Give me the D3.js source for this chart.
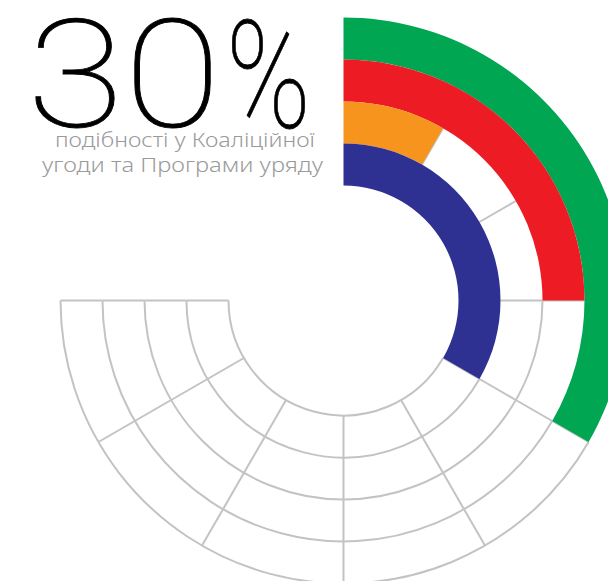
<!DOCTYPE html>
<html>
<head>
<meta charset="utf-8">
<script src="https://cdn.jsdelivr.net/npm/d3@7"></script>
<style>
  html, body { margin: 0; padding: 0; background: #fff; }
  svg { display: block; }
</style>
</head>
<body>
<svg id="chart" width="608" height="581"></svg>
<script>
// Series, outer ring first
const series = ["green", "red", "orange", "blue"];
const values = [40, 30, 10, 40];            // per cent
const colors = ["#00a651", "#ed1c24", "#f7941d", "#2e3192"];
const gridTicks = [10, 20, 30, 40, 50, 60, 70, 80, 90];
const gridMax = 90;
const headline = "30%";
const subtitleLines = ["подібності у Коаліційної", "угоди та Програми уряду"];

const svg = d3.select("#chart");
const cx = 343.5, cy = 300.5;
const g = svg.append("g").attr("transform", `translate(${cx},${cy})`);

// 100 % would take 300 degrees; the grid stops at 90 %
const angle = d3.scaleLinear().domain([0, 100]).range([0, 300 * Math.PI / 180]);
const radius = d3.scaleBand().domain(series).range([283, 115]).paddingInner(0).paddingOuter(0);
const bw = radius.bandwidth();

const gridColor = "#c3c3c3";
const gridWidth = 2;

const inner = s => radius(s);
const outer = s => radius(s) + bw;
const valOf = s => values[series.indexOf(s)];

// ring boundaries: each one runs from the larger of its neighbours' values to the grid end
const boundaries = [];
series.forEach((s, i) => {
  const outerNeighbour = i > 0 ? values[i - 1] : 0;
  boundaries.push({ r: outer(s), from: Math.max(values[i], outerNeighbour) });
});
boundaries.push({ r: inner(series[series.length - 1]), from: values[values.length - 1] });

const grid = g.append("g").attr("class", "grid")
  .attr("fill", "none").attr("stroke", gridColor).attr("stroke-width", gridWidth);

grid.selectAll("path.ring")
  .data(boundaries)
  .join("path")
  .attr("class", "ring")
  .attr("d", d => {
    const p = d3.path();
    const a0 = angle(d.from) - Math.PI / 2, a1 = angle(gridMax) - Math.PI / 2;
    p.moveTo(d.r * Math.cos(a0), d.r * Math.sin(a0));
    p.arc(0, 0, d.r, a0, a1);
    return p.toString();
  });

// spokes across each ring's empty part
const spokes = [];
series.forEach((s, i) => {
  gridTicks.filter(t => t >= values[i]).forEach(t => spokes.push({ s, t }));
});
grid.selectAll("line.spoke")
  .data(spokes)
  .join("line")
  .attr("class", "spoke")
  .attr("x1", d => inner(d.s) * Math.sin(angle(d.t)))
  .attr("y1", d => -inner(d.s) * Math.cos(angle(d.t)))
  .attr("x2", d => outer(d.s) * Math.sin(angle(d.t)))
  .attr("y2", d => -outer(d.s) * Math.cos(angle(d.t)));

// coloured bars
const arc = d3.arc()
  .innerRadius(d => inner(d))
  .outerRadius(d => outer(d))
  .startAngle(0)
  .endAngle(d => angle(valOf(d)));

g.append("g").selectAll("path.bar")
  .data(series)
  .join("path")
  .attr("class", "bar")
  .attr("d", arc)
  .attr("fill", (d, i) => colors[i]);

// headline, one glyph at a time so each gets its own width
const glyphX = [27, 124, 226], glyphLen = [97, 97, 85];
svg.selectAll("text.head")
  .data(headline.split(""))
  .join("text")
  .attr("class", "head")
  .attr("x", (d, i) => glyphX[i]).attr("y", 127)
  .attr("textLength", (d, i) => glyphLen[i]).attr("lengthAdjust", "spacingAndGlyphs")
  .attr("font-family", "Roboto, 'Noto Sans', sans-serif")
  .attr("font-weight", 100)
  .attr("font-size", 150)
  .attr("fill", "#000")
  .attr("stroke", "#000").attr("stroke-width", 0.8)
  .text(d => d);

const subX = [55, 42], subLen = [260, 281], subY = [147, 172];
svg.selectAll("text.sub")
  .data(subtitleLines)
  .join("text")
  .attr("class", "sub")
  .attr("x", (d, i) => subX[i]).attr("y", (d, i) => subY[i])
  .attr("textLength", (d, i) => subLen[i]).attr("lengthAdjust", "spacingAndGlyphs")
  .attr("font-family", "'Noto Sans', 'Open Sans', sans-serif")
  .attr("font-weight", 300)
  .attr("font-size", 20)
  .attr("fill", "#9a9a9a")
  .text(d => d);
</script>
</body>
</html>
